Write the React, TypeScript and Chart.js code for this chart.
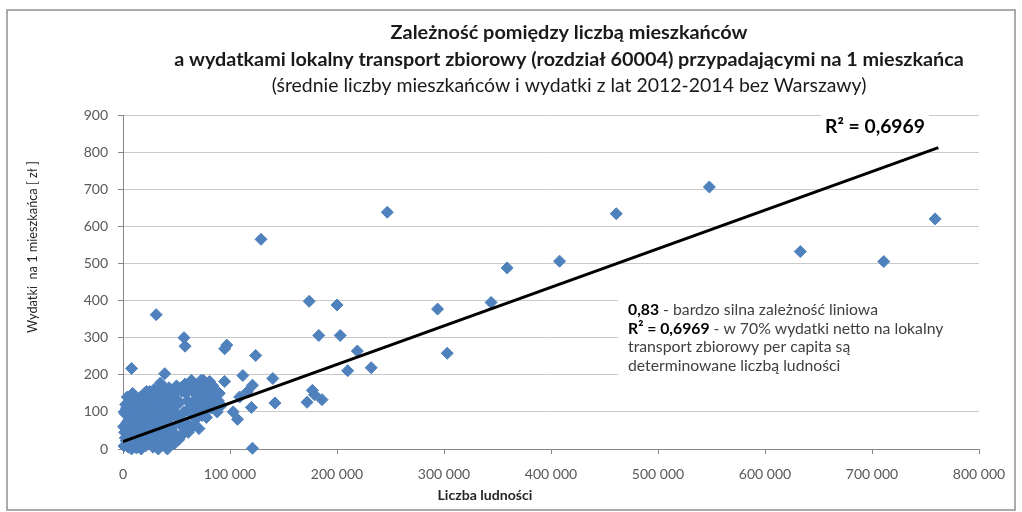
import React, { useEffect, useRef } from "react";
import { Chart, registerables } from "chart.js";

Chart.register(...registerables);

const FONT = "Lato, 'Open Sans', sans-serif";

const titleLines = [
  "Zależność pomiędzy liczbą mieszkańców",
  "a wydatkami lokalny transport zbiorowy (rozdział 60004) przypadającymi na 1 mieszkańca",
  "(średnie liczby mieszkańców i wydatki z lat 2012-2014 bez Warszawy)",
];
const yAxisTitle = "Wydatki  na 1 mieszkańca [ zł ]";
const xAxisTitle = "Liczba ludności";
const r2Label = "R² = 0,6969";
const noteBold = ["0,83", "R² = 0,6969", "", ""];
const noteRest = [
  " - bardzo silna zależność liniowa",
  " - w 70% wydatki netto na lokalny",
  "transport zbiorowy per capita są",
  "determinowane liczbą ludności",
];

const xTickValues = [0, 100000, 200000, 300000, 400000, 500000, 600000, 700000, 800000];
const yTickValues = [0, 100, 200, 300, 400, 500, 600, 700, 800, 900];

// population (x) and spending per inhabitant (y)
const popX = [
  759000, 711000, 633000, 548000, 461000, 408000, 359000, 344000, 303000, 294000,
  247000, 232000, 219000, 210000, 200000, 203000, 183000, 174000, 177000, 179000,
  172000, 186000, 129000, 140000, 142000, 124000, 121000, 116000, 112000, 120000,
  109000, 103000, 107000, 121000, 95000, 97000, 95000, 84000, 78000, 31000,
  57000, 58000, 8000, 39000, 35000, 81000, 75000,
  1000, 1500, 2000, 2500, 3000, 3500, 4000, 5000, 5500, 6000,
  6500, 7000, 7500, 8000, 9000, 9500, 10000, 10500, 11000, 12000,
  12500, 13000, 14000, 14500, 15000,
  16000, 16500, 17000, 17500, 18000, 19000, 19500, 20000, 21000, 21500,
  22000, 23000, 24000, 24500, 25000, 26000, 26500, 27000, 28000, 28500,
  29000, 30000,
  31000, 31500, 32000, 33000, 33500, 34000, 35000, 35500, 36000, 37000,
  38000, 38500, 39000, 40000, 41000, 41500, 42000, 43000, 44000, 44500,
  45000,
  46000, 47000, 48000, 48500, 49000, 50000, 51000, 52000, 53000, 54000,
  55000, 56000, 57000, 58000, 59000, 60000,
  61000, 62000, 63000, 64000, 65000, 66000, 67000, 68000, 69000, 70000,
  71000, 72000, 73000, 74000, 75000,
  77000, 78000, 80000, 82000, 84000, 86000, 88000, 90000, 92000,
  500, 1200, 2200, 3200, 4500, 6000, 7000, 8500, 9000, 11000,
  12000, 13500, 15500, 16500, 18000, 19000, 20000, 22000, 23500, 25000,
  26500, 27500, 29000, 30500, 32000, 34000, 36000, 37500, 40000, 42000,
  44000, 47000, 50000, 52000, 54000, 57000, 59000, 62000, 65000, 68000,
  71000, 76000, 79000, 86000, 89000,
];
const spendY = [
  620, 505, 532, 706, 634, 506, 488, 395, 258, 377,
  638, 219, 264, 211, 388, 306, 306, 398, 158, 146,
  126, 133, 565, 190, 124, 252, 172, 154, 198, 112,
  140, 100, 80, 2, 270, 280, 182, 147, 112, 362,
  300, 277, 217, 203, 178, 182, 185,
  8, 45, 95, 120, 22, 70, 140, 5, 55, 105,
  135, 30, 85, 0, 62, 115, 12, 40, 92, 128,
  3, 70, 48, 108, 20,
  85, 140, 0, 58, 118, 30, 95, 150, 8, 68,
  125, 42, 100, 15, 155, 78, 50, 130, 5, 92,
  160, 35,
  110, 65, 140, 0, 20, 85, 50, 125, 135, 12,
  100, 70, 145, 30, 115, 0, 55, 165, 85, 20,
  135,
  60, 105, 15, 150, 40, 170, 90, 25, 125, 65,
  155, 40, 100, 175, 70, 130,
  45, 160, 95, 185, 60, 125, 150, 80, 170, 105,
  55, 140, 185, 90, 120,
  160, 85, 135, 110, 170, 125, 100, 150, 118,
  60, 100, 30, 110, 75, 15, 128, 40, 150, 58,
  25, 95, 135, 110, 12, 75, 45, 155, 20, 115,
  140, 62, 10, 95, 50, 165, 105, 40, 160, 95,
  45, 140, 120, 80, 165, 55, 150, 110, 170, 135,
  165, 140, 110, 160, 130,
];

// linear trend line endpoints
const trendX = [0, 762000];
const trendY = [20, 812];

const fmt = (v: number) => String(v).replace(/\B(?=(\d{3})+(?!\d))/g, " ");

function fitSize(ctx: CanvasRenderingContext2D, text: string, weight: string, target: number) {
  ctx.font = `${weight} 20px ${FONT}`;
  return (20 * target) / ctx.measureText(text).width;
}

const decor = {
  id: "decor",
  beforeDraw(chart: any) {
    const { ctx, width, height } = chart;
    ctx.save();
    ctx.fillStyle = "#ffffff";
    ctx.fillRect(0, 0, width, height);
    ctx.strokeStyle = "#8f8f8f";
    ctx.lineWidth = 1.5;
    ctx.strokeRect(7, 10, 1008, 500);
    ctx.restore();
  },
  afterDraw(chart: any) {
    const ctx: CanvasRenderingContext2D = chart.ctx;
    ctx.save();
    ctx.textBaseline = "middle";
    // titles
    ctx.textAlign = "center";
    ctx.fillStyle = "#1a1a1a";
    const tY = [33, 60, 86];
    const tW = [357, 790, 595];
    const tWeight = ["bold", "bold", "normal"];
    titleLines.forEach((t, i) => {
      const s = fitSize(ctx, t, tWeight[i], tW[i]);
      ctx.font = `${tWeight[i]} ${s}px ${FONT}`;
      ctx.fillText(t, 569, tY[i]);
    });
    // y axis title
    ctx.save();
    ctx.translate(33, 247);
    ctx.rotate(-Math.PI / 2);
    ctx.fillStyle = "#262626";
    const ys = fitSize(ctx, yAxisTitle, "normal", 172);
    ctx.font = `normal ${ys}px ${FONT}`;
    ctx.fillText(yAxisTitle, 0, 0);
    ctx.restore();
    // x axis title
    ctx.fillStyle = "#262626";
    const xs = fitSize(ctx, xAxisTitle, "bold", 95);
    ctx.font = `bold ${xs}px ${FONT}`;
    ctx.fillText(xAxisTitle, 485, 495);
    // R2 label
    ctx.fillStyle = "#ffffff";
    ctx.fillRect(821, 112, 108, 30);
    ctx.fillStyle = "#000000";
    const rs = fitSize(ctx, r2Label, "bold", 100);
    ctx.font = `bold ${rs}px ${FONT}`;
    ctx.fillText(r2Label, 875, 127);
    // note box
    ctx.fillStyle = "#ffffff";
    ctx.fillRect(618, 292, 368, 92);
    ctx.textAlign = "left";
    const full0 = noteBold[0] + noteRest[0];
    const ns = fitSize(ctx, full0, "normal", 250);
    const nY = [310, 328.5, 347, 365.5];
    noteRest.forEach((rest, i) => {
      let x = 628;
      if (noteBold[i]) {
        ctx.font = `bold ${ns}px ${FONT}`;
        ctx.fillStyle = "#000000";
        ctx.fillText(noteBold[i], x, nY[i]);
        x += ctx.measureText(noteBold[i]).width;
      }
      ctx.font = `normal ${ns}px ${FONT}`;
      ctx.fillStyle = "#404040";
      ctx.fillText(rest, x, nY[i]);
    });
    ctx.restore();
  },
};

export default function App() {
  const ref = useRef<HTMLCanvasElement>(null);
  useEffect(() => {
    const chart = new Chart(ref.current as HTMLCanvasElement, {
      type: "scatter",
      data: {
        datasets: [
          {
            type: "line",
            data: trendX.map((x, i) => ({ x, y: trendY[i] })),
            borderColor: "#000000",
            borderWidth: 3,
            pointRadius: 0,
            fill: false,
            tension: 0,
            order: 0,
          } as any,
          {
            type: "scatter",
            data: popX.map((x, i) => ({ x, y: spendY[i] })),
            pointStyle: "rectRot",
            pointRadius: 6,
            backgroundColor: "#4F81BD",
            borderColor: "#4F81BD",
            borderWidth: 1,
            clip: false,
            order: 1,
          } as any,
        ],
      },
      options: {
        responsive: false,
        animation: false,
        layout: { padding: { left: 0, top: 115, right: 43, bottom: 0 } },
        plugins: {
          legend: { display: false },
          tooltip: { enabled: false },
          title: { display: false },
        },
        scales: {
          x: {
            type: "linear",
            min: 0,
            max: 800000,
            afterFit: (s: any) => {
              s.height = 63;
            },
            afterBuildTicks: (s: any) => {
              s.ticks = xTickValues.map((v) => ({ value: v }));
            },
            ticks: {
              callback: (v: any) => fmt(Number(v)),
              color: "#595959",
              font: { family: FONT, size: 14 },
              padding: 12,
              maxRotation: 0,
              autoSkip: false,
            },
            grid: { drawOnChartArea: false, drawTicks: true, tickLength: 5, color: "#868686" },
            border: { color: "#868686" },
          },
          y: {
            type: "linear",
            min: 0,
            max: 900,
            afterFit: (s: any) => {
              s.width = 123;
            },
            afterBuildTicks: (s: any) => {
              s.ticks = yTickValues.map((v) => ({ value: v }));
            },
            ticks: {
              color: "#595959",
              font: { family: FONT, size: 14 },
              padding: 10,
            },
            grid: { color: "#c9c9c9", tickColor: "#868686", tickLength: 5 },
            border: { color: "#868686" },
          },
        },
      },
      plugins: [decor],
    });
    return () => chart.destroy();
  }, []);
  return (
    <div style={{ position: "absolute", left: 0, top: 0, width: 1022, height: 512, background: "#fff" }}>
      <canvas ref={ref} width={1022} height={512} style={{ display: "block" }} />
    </div>
  );
}
